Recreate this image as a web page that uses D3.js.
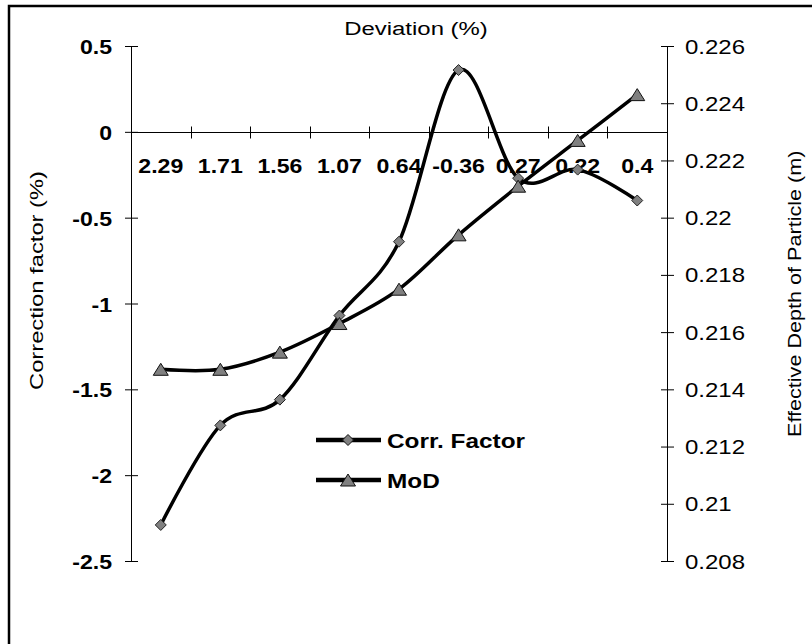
<!DOCTYPE html>
<html>
<head>
<meta charset="utf-8">
<script src="https://cdn.jsdelivr.net/npm/d3@7"></script>
<style>
  html, body { margin: 0; padding: 0; background: #fff; }
  svg { display: block; }
  text { font-family: "Liberation Sans", Arial, sans-serif; fill: #000; }
</style>
</head>
<body>
<svg id="chart" width="812" height="644"></svg>
<script>
// Category labels along the deviation axis
const categories = ["2.29", "1.71", "1.56", "1.07", "0.64", "-0.36", "0.27", "0.22", "0.4"];
// Correction factor (%) on the primary axis
const corrFactor = [-2.29, -1.71, -1.56, -1.07, -0.64, 0.36, -0.27, -0.22, -0.40];
// Effective depth of particle (m) on the secondary axis
const modValues = [0.2147, 0.2147, 0.2153, 0.2163, 0.2175, 0.2194, 0.2211, 0.2227, 0.2243];
// Axis tick values
const leftTicks = [0.5, 0, -0.5, -1, -1.5, -2, -2.5];
const rightTicks = [0.226, 0.224, 0.222, 0.22, 0.218, 0.216, 0.214, 0.212, 0.21, 0.208];

const svg = d3.select("#chart");
const plot = { left: 131, right: 667, top: 46, bottom: 561 };

const x = d3.scaleBand().domain(categories).range([plot.left, plot.right]);
const yL = d3.scaleLinear().domain([-2.5, 0.5]).range([plot.bottom, plot.top]);
const yR = d3.scaleLinear().domain([0.208, 0.226]).range([plot.bottom, plot.top]);
const cx = d => x(d) + x.bandwidth() / 2;

// Text with glyphs widened along the reading direction
function styleWide(sel, size, bold, sx, dx, dy, anchor) {
  sel.attr("x", 0).attr("y", 0).attr("dy", null)
    .attr("transform", `translate(${dx},${dy}) scale(${sx},1)`)
    .attr("text-anchor", anchor)
    .style("font-size", size + "px")
    .style("font-weight", bold ? "bold" : "normal");
}

// Chart frame
svg.append("rect")
  .attr("x", 9).attr("y", 6).attr("width", 830).attr("height", 660)
  .attr("fill", "none").attr("stroke", "#000").attr("stroke-width", 2.5);

// Primary (left) axis
const left = svg.append("g").attr("transform", `translate(${plot.left},0)`)
  .call(d3.axisLeft(yL).tickValues(leftTicks).tickFormat(d => String(d)).tickSize(6));
left.attr("font-family", null).attr("font-size", null);
left.select(".domain").attr("stroke", "#000").attr("d", `M0.5,${plot.top}V${plot.bottom}`);
left.selectAll(".tick line").attr("x1", 7).attr("x2", -6).attr("stroke", "#000");
left.selectAll(".tick text").call(styleWide, 21, true, 1.1, -19, 7.5, "end");

// Secondary (right) axis
const right = svg.append("g").attr("transform", `translate(${plot.right},0)`)
  .call(d3.axisRight(yR).tickValues(rightTicks).tickFormat(d => String(d)).tickSize(6));
right.attr("font-family", null).attr("font-size", null);
right.select(".domain").attr("stroke", "#000").attr("d", `M0.5,${plot.top}V${plot.bottom}`);
right.selectAll(".tick line").attr("x1", -6).attr("x2", 7).attr("stroke", "#000");
right.selectAll(".tick text").call(styleWide, 20, false, 1.2, 18, 7, "start");

// Category axis crossing at zero
const y0 = Math.round(yL(0)) + 0.5;
const xAxis = svg.append("g");
xAxis.append("line")
  .attr("x1", plot.left).attr("x2", plot.right).attr("y1", y0).attr("y2", y0)
  .attr("stroke", "#000");
xAxis.selectAll("line.tick").data(categories.slice(1)).join("line")
  .attr("class", "tick")
  .attr("x1", d => Math.round(x(d)) + 0.5).attr("x2", d => Math.round(x(d)) + 0.5)
  .attr("y1", y0 - 6).attr("y2", y0 + 6).attr("stroke", "#000");
xAxis.selectAll("text").data(categories).join("text")
  .each(function (d) {
    d3.select(this).call(styleWide, 21, true, 1.1, cx(d), y0 + 40, "middle");
  })
  .text(d => d);

// Titles
svg.append("text").call(styleWide, 19, false, 1.26, 416, 35, "middle")
  .text("Deviation (%)");
svg.append("text")
  .attr("transform", "translate(43,390) rotate(-90) scale(1.25,1)")
  .attr("text-anchor", "start")
  .style("font-size", "19px")
  .text("Correction factor (%)");
svg.append("text")
  .attr("transform", "translate(801,437) rotate(-90) scale(1.2,1)")
  .attr("text-anchor", "start")
  .style("font-size", "18px")
  .text("Effective Depth of Particle (m)");

// Series
const curve = d3.curveCatmullRom.alpha(0);
const diamond = "M0,-5.5L5.5,0L0,5.5L-5.5,0Z";
const triangle = "M0,-6L7.5,6L-7.5,6Z";

const corrPts = categories.map((c, i) => [cx(c), yL(corrFactor[i])]);
const modPts = categories.map((c, i) => [cx(c), yR(modValues[i])]);

svg.append("path").attr("d", d3.line().curve(curve)(corrPts))
  .attr("fill", "none").attr("stroke", "#000").attr("stroke-width", 3.5)
  .attr("stroke-linejoin", "round");
svg.selectAll("path.cf").data(corrPts).join("path").attr("class", "cf")
  .attr("transform", d => `translate(${d[0]},${d[1]})`).attr("d", diamond)
  .attr("fill", "#808080").attr("stroke", "#222").attr("stroke-width", 1);

svg.append("path").attr("d", d3.line().curve(curve)(modPts))
  .attr("fill", "none").attr("stroke", "#000").attr("stroke-width", 3.5)
  .attr("stroke-linejoin", "round");
svg.selectAll("path.mod").data(modPts).join("path").attr("class", "mod")
  .attr("transform", d => `translate(${d[0]},${d[1]})`).attr("d", triangle)
  .attr("fill", "#808080").attr("stroke", "#111").attr("stroke-width", 1);

// Legend
const legend = [
  { name: "Corr. Factor", marker: diamond, y: 440 },
  { name: "MoD", marker: triangle, y: 480 }
];
const lg = svg.append("g");
legend.forEach(item => {
  lg.append("line").attr("x1", 316).attr("x2", 381).attr("y1", item.y).attr("y2", item.y)
    .attr("stroke", "#000").attr("stroke-width", 4.5);
  lg.append("path").attr("d", item.marker)
    .attr("transform", `translate(348,${item.y})`)
    .attr("fill", "#808080").attr("stroke", "#111").attr("stroke-width", 1);
  lg.append("text").call(styleWide, 21, true, 1.16, 387, item.y + 8, "start")
    .text(item.name);
});
</script>
</body>
</html>
